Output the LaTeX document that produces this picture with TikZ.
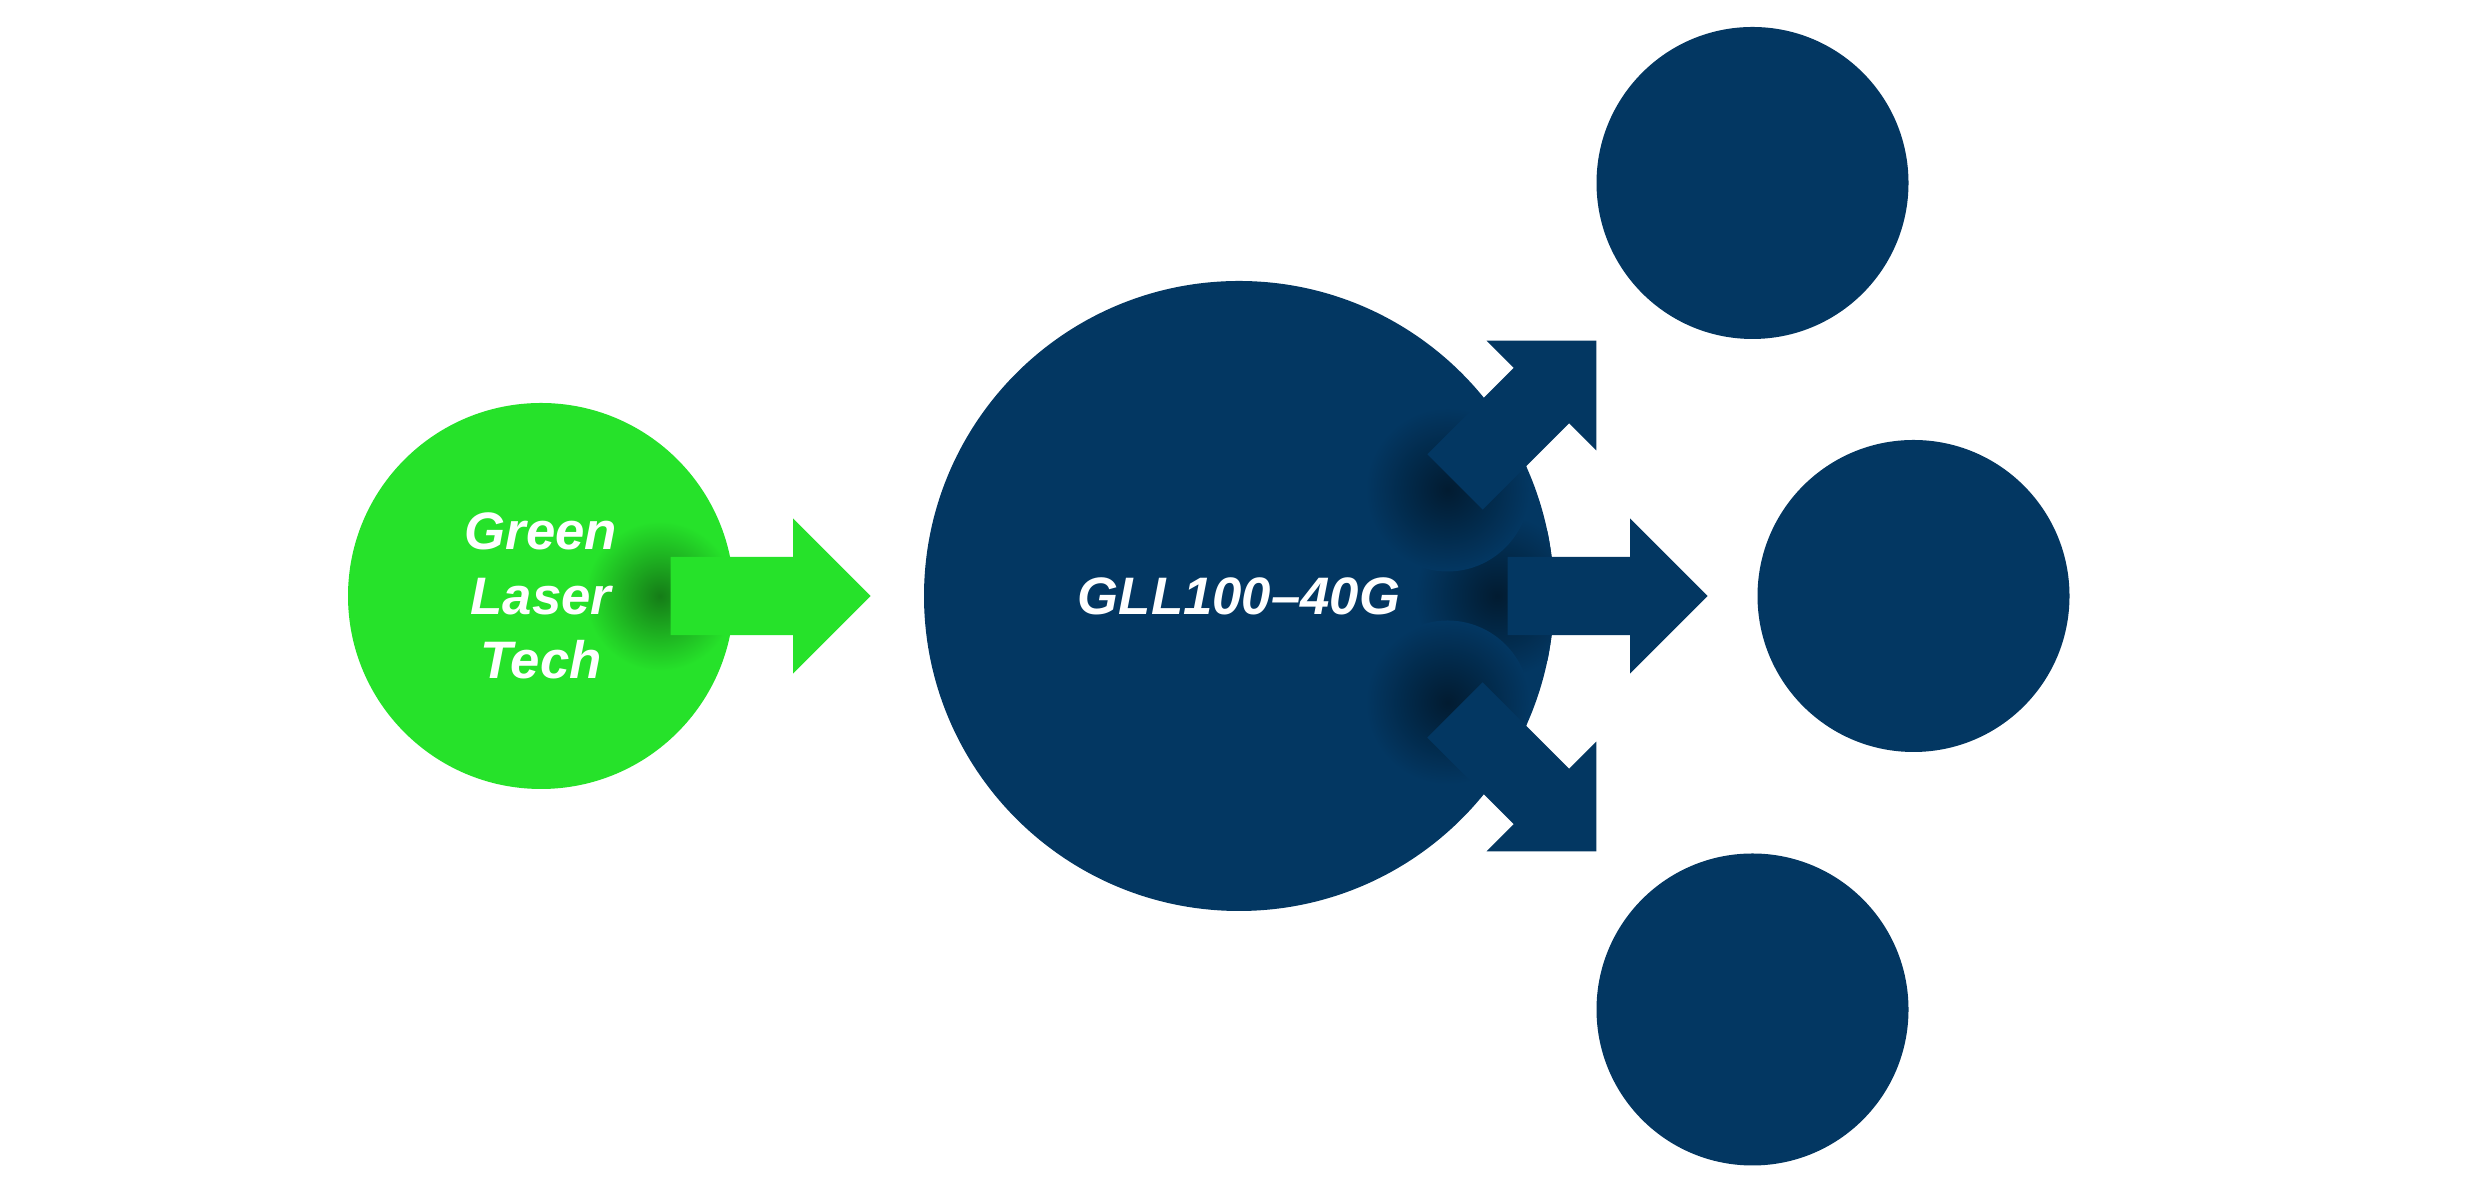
\documentclass[tikz,border=0pt]{standalone}
\usepackage{fontspec}
\usepackage{tikz}
\usetikzlibrary{shapes.arrows, positioning, calc}
\newfontfamily\tagfont{Liberation Sans}
\definecolor{mygreen}{RGB}{38,226,42}
\definecolor{mynavy}{RGB}{3,55,98}
\tikzset{
  ball/.style={circle, fill=mynavy, inner sep=0pt, minimum size=3.12cm},
  bigarrow/.style={single arrow, fill=mynavy, inner xsep=0pt, inner ysep=0.385cm,
    minimum height=2cm, single arrow head extend=0.385cm,
    single arrow tip angle=90, anchor=tail},
  tag/.style={text=white, align=center,
    font=\tagfont\bfseries\itshape\fontsize{15}{18.3}\selectfont}
}

\begin{document}
\begin{tikzpicture}
  \fill[white] (0,0) rectangle (24.8,11.96);
  \useasboundingbox (0,0) rectangle (24.8,11.96);

  % Circles
  \node[ball, fill=mygreen, minimum size=3.86cm] (laser) at (5.41,6.0) {};
  \node[ball, minimum size=6.30cm] (chip) at (12.39,6.0) {};
  \node[ball] (outtop) at (17.525,10.13) {};
  \node[ball] (outmid) at (19.135,6.0) {};
  \node[ball] (outbot) at (17.525,1.865) {};

  % Shadows at the arrow tails
  \begin{scope}
    \clip (laser.center) circle (1.93);
    \shade[inner color=mygreen!55!black, outer color=mygreen] (6.60,6.0) circle (0.75);
  \end{scope}
  \begin{scope}
    \clip (chip.center) circle (3.15);
    \foreach \pt in {(14.97,6.0), (14.475,7.065), (14.475,4.935)}
      \shade[inner color=mynavy!50!black, outer color=mynavy] \pt circle (0.82);
  \end{scope}

  % Arrows
  \node[bigarrow, fill=mygreen] (inarrow) at (6.70,6.0) {};
  \node[bigarrow] (outarrow) at (15.07,6.0) {};
  \node[bigarrow, rotate=45] (uparrow) at (14.545,7.135) {};
  \node[bigarrow, rotate=-45] (downarrow) at (14.545,4.865) {};

  % Labels
  \node[tag] (lasertext) at (laser) {Green\\Laser\\Tech};
  \node[tag] (chiptext) at (chip) {GLL100–40G};
\end{tikzpicture}
\end{document}
